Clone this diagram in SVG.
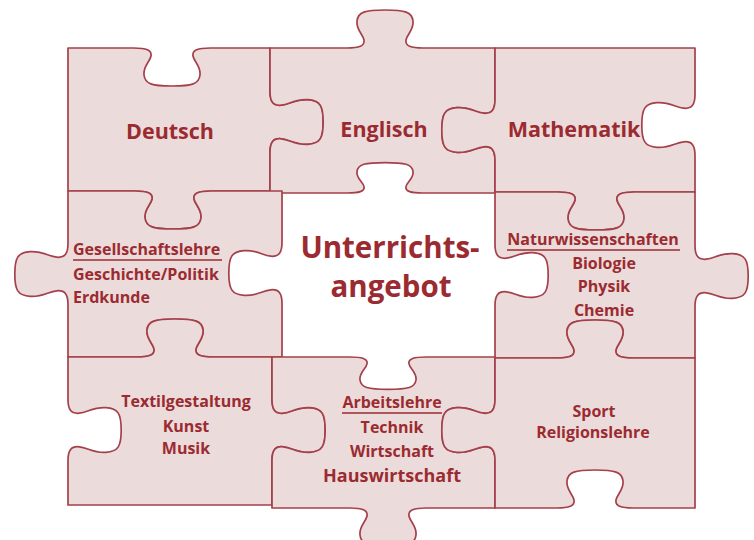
<svg xmlns="http://www.w3.org/2000/svg" width="754" height="540" viewBox="0 0 754 540">
<style>
.piece{fill:#ecdbdb;stroke:#a4404a;stroke-width:1.7;stroke-linejoin:round}
.t{font-family:"Open Sans",Lato,"Liberation Sans",sans-serif;font-weight:700;fill:#9b2b30;text-anchor:middle}
.big{font-size:21.5px}
.huge{font-size:29.5px}
.sm{font-size:16px}
.ul{stroke:#9b2b30;stroke-width:1.5}
</style>
<rect width="754" height="540" fill="#ffffff"/>
<g id="deutsch">
<path class="piece" d="M68,48 L134,48 C146,48 152,50 151,56 C150,62 143,66 144,75 C145,84 152,86 172,86 C192,86 199,84 200,75 C201,66 194,62 193,56 C192,50 198,48 210,48 L270,48 L270,91.6 C270,101.2 272.8,106 281.2,105.2 C289.6,104.4 295.2,98.8 307.8,99.6 C320.4,100.4 323.2,106 323.2,122 C323.2,138 320.4,143.6 307.8,144.4 C295.2,145.2 289.6,139.6 281.2,138.8 C272.8,138 270,142.8 270,152.4 L270,191 L211,191 C199,191 193,193 194,199 C195,205 202,209 201,218 C200,227 193,229 173,229 C153,229 146,227 145,218 C144,209 151,205 152,199 C153,193 147,191 135,191 L68,191 Z"/>
<text class="t big" x="170" y="139">Deutsch</text>
</g>
<g id="englisch">
<path class="piece" d="M270,48 L347,48 C359,48 365,46 364,40 C363,34 356,30 357,21 C358,12 365,10 385,10 C405,10 412,12 413,21 C414,30 407,34 406,40 C405,46 411,48 423,48 L495,48 L495,99.6 C495,109.2 492.2,114 483.8,113.2 C475.4,112.4 469.8,106.8 457.2,107.6 C444.6,108.4 441.8,114 441.8,130 C441.8,146 444.6,151.6 457.2,152.4 C469.8,153.2 475.4,147.6 483.8,146.8 C492.2,146 495,150.8 495,160.4 L495,193 L423,193 C411,193 405,191.4 406,186.6 C407,181.8 414,178.6 413,171.4 C412,164.2 405,162.6 385,162.6 C365,162.6 358,164.2 357,171.4 C356,178.6 363,181.8 364,186.6 C365,191.4 359,193 347,193 L270,193 L270,152.4 C270,142.8 272.8,138 281.2,138.8 C289.6,139.6 295.2,145.2 307.8,144.4 C320.4,143.6 323.2,138 323.2,122 C323.2,106 320.4,100.4 307.8,99.6 C295.2,98.8 289.6,104.4 281.2,105.2 C272.8,106 270,101.2 270,91.6 Z"/>
<text class="t big" x="384" y="137">Englisch</text>
</g>
<g id="mathematik">
<path class="piece" d="M495,48 L695,48 L695,94.6 C695,104.2 692.2,109 683.8,108.2 C675.4,107.4 669.8,101.8 657.2,102.6 C644.6,103.4 641.8,109 641.8,125 C641.8,141 644.6,146.6 657.2,147.4 C669.8,148.2 675.4,142.6 683.8,141.8 C692.2,141 695,145.8 695,155.4 L695,192 L634,192 C622,192 616,194 617,200 C618,206 625,210 624,219 C623,228 616,230 596,230 C576,230 569,228 568,219 C567,210 574,206 575,200 C576,194 570,192 558,192 L495,192 L495,160.4 C495,150.8 492.2,146 483.8,146.8 C475.4,147.6 469.8,153.2 457.2,152.4 C444.6,151.6 441.8,146 441.8,130 C441.8,114 444.6,108.4 457.2,107.6 C469.8,106.8 475.4,112.4 483.8,113.2 C492.2,114 495,109.2 495,99.6 Z"/>
<text class="t big" x="574" y="137">Mathematik</text>
</g>
<g id="gesellschaftslehre">
<path class="piece" d="M68,191 L135,191 C147,191 153,193 152,199 C151,205 144,209 145,218 C146,227 153,229 173,229 C193,229 200,227 201,218 C202,209 195,205 194,199 C193,193 199,191 211,191 L282,191 L282,242.6 C282,252.2 279.2,257 270.8,256.2 C262.4,255.4 256.8,249.8 244.2,250.6 C231.6,251.4 228.8,257 228.8,273 C228.8,289 231.6,294.6 244.2,295.4 C256.8,296.2 262.4,290.6 270.8,289.8 C279.2,289 282,293.8 282,303.4 L282,357 L213,357 C201,357 195,355 196,349 C197,343 204,339 203,330 C202,321 195,319 175,319 C155,319 148,321 147,330 C146,339 153,343 154,349 C155,355 149,357 137,357 L68,357 L68,304.4 C68,294.8 65.2,290 56.8,290.8 C48.4,291.6 42.8,297.2 30.2,296.4 C17.6,295.6 14.8,290 14.8,274 C14.8,258 17.6,252.4 30.2,251.6 C42.8,250.8 48.4,256.4 56.8,257.2 C65.2,258 68,253.2 68,243.6 Z"/>
<text class="t sm" x="73" y="255" style="text-anchor:start">Gesellschaftslehre</text>
<line class="ul" x1="73" y1="260" x2="222" y2="260"/>
<text class="t sm" x="73" y="280" style="text-anchor:start">Geschichte/Politik</text>
<text class="t sm" x="73" y="303" style="text-anchor:start">Erdkunde</text>
</g>
<g id="unterrichtsangebot">
<text class="t huge" x="390" y="258">Unterrichts-</text>
<text class="t huge" x="391" y="297">angebot</text>
</g>
<g id="naturwissenschaften">
<path class="piece" d="M495,192 L558,192 C570,192 576,194 575,200 C574,206 567,210 568,219 C569,228 576,230 596,230 C616,230 623,228 624,219 C625,210 618,206 617,200 C616,194 622,192 634,192 L695,192 L695,245.6 C695,255.2 697.8,260 706.2,259.2 C714.6,258.4 720.2,252.8 732.8,253.6 C745.4,254.4 748.2,260 748.2,276 C748.2,292 745.4,297.6 732.8,298.4 C720.2,299.2 714.6,293.6 706.2,292.8 C697.8,292 695,296.8 695,306.4 L695,358 L633,358 C621,358 615,356 616,350 C617,344 624,340 623,331 C622,322 615,320 595,320 C575,320 568,322 567,331 C566,340 573,344 574,350 C575,356 569,358 557,358 L495,358 L495,305.4 C495,295.8 497.8,291 506.2,291.8 C514.6,292.6 520.2,298.2 532.8,297.4 C545.4,296.6 548.2,291 548.2,275 C548.2,259 545.4,253.4 532.8,252.6 C520.2,251.8 514.6,257.4 506.2,258.2 C497.8,259 495,254.2 495,244.6 Z"/>
<text class="t sm" x="593" y="245">Naturwissenschaften</text>
<line class="ul" x1="507" y1="250" x2="680" y2="250"/>
<text class="t sm" x="604" y="269">Biologie</text>
<text class="t sm" x="604" y="292">Physik</text>
<text class="t sm" x="604" y="316">Chemie</text>
</g>
<g id="textilgestaltung">
<path class="piece" d="M68,357 L137,357 C149,357 155,355 154,349 C153,343 146,339 147,330 C148,321 155,319 175,319 C195,319 202,321 203,330 C204,339 197,343 196,349 C195,355 201,357 213,357 L272,357 L272,399.6 C272,409.2 274.8,414 283.2,413.2 C291.6,412.4 297.2,406.8 309.8,407.6 C322.4,408.4 325.2,414 325.2,430 C325.2,446 322.4,451.6 309.8,452.4 C297.2,453.2 291.6,447.6 283.2,446.8 C274.8,446 272,450.8 272,460.4 L272,505 L68,505 L68,460.4 C68,450.8 70.8,446 79.2,446.8 C87.6,447.6 93.2,453.2 105.8,452.4 C118.4,451.6 121.2,446 121.2,430 C121.2,414 118.4,408.4 105.8,407.6 C93.2,406.8 87.6,412.4 79.2,413.2 C70.8,414 68,409.2 68,399.6 Z"/>
<text class="t sm" x="186" y="407">Textilgestaltung</text>
<text class="t sm" x="186" y="432">Kunst</text>
<text class="t sm" x="186" y="454">Musik</text>
</g>
<g id="arbeitslehre">
<path class="piece" d="M272,357 L350,357 C362,357 368,358.7 367,363.8 C366,368.9 359,372.3 360,380 C361,387.6 368,389.3 388,389.3 C408,389.3 415,387.6 416,380 C417,372.3 410,368.9 409,363.8 C408,358.7 414,357 426,357 L495,357 L495,399.6 C495,409.2 492.2,414 483.8,413.2 C475.4,412.4 469.8,406.8 457.2,407.6 C444.6,408.4 441.8,414 441.8,430 C441.8,446 444.6,451.6 457.2,452.4 C469.8,453.2 475.4,447.6 483.8,446.8 C492.2,446 495,450.8 495,460.4 L495,508 L426,508 C414,508 408,510 409,516 C410,522 417,526 416,535 C415,544 408,546 388,546 C368,546 361,544 360,535 C359,526 366,522 367,516 C368,510 362,508 350,508 L272,508 L272,460.4 C272,450.8 274.8,446 283.2,446.8 C291.6,447.6 297.2,453.2 309.8,452.4 C322.4,451.6 325.2,446 325.2,430 C325.2,414 322.4,408.4 309.8,407.6 C297.2,406.8 291.6,412.4 283.2,413.2 C274.8,414 272,409.2 272,399.6 Z"/>
<text class="t sm" x="392" y="408">Arbeitslehre</text>
<line class="ul" x1="342" y1="413" x2="442" y2="413"/>
<text class="t sm" x="392" y="433">Technik</text>
<text class="t sm" x="392" y="457">Wirtschaft</text>
<text class="t" x="392" y="482" style="font-size:18px">Hauswirtschaft</text>
</g>
<g id="sport">
<path class="piece" d="M495,358 L557,358 C569,358 575,356 574,350 C573,344 566,340 567,331 C568,322 575,320 595,320 C615,320 622,322 623,331 C624,340 617,344 616,350 C615,356 621,358 633,358 L695,358 L695,508 L633,508 C621,508 615,506 616,500 C617,494 624,490 623,481 C622,472 615,470 595,470 C575,470 568,472 567,481 C566,490 573,494 574,500 C575,506 569,508 557,508 L495,508 L495,460.4 C495,450.8 492.2,446 483.8,446.8 C475.4,447.6 469.8,453.2 457.2,452.4 C444.6,451.6 441.8,446 441.8,430 C441.8,414 444.6,408.4 457.2,407.6 C469.8,406.8 475.4,412.4 483.8,413.2 C492.2,414 495,409.2 495,399.6 Z"/>
<text class="t sm" x="594" y="417">Sport</text>
<text class="t sm" x="593" y="438">Religionslehre</text>
</g>
<g id="connectors"></g>
</svg>
